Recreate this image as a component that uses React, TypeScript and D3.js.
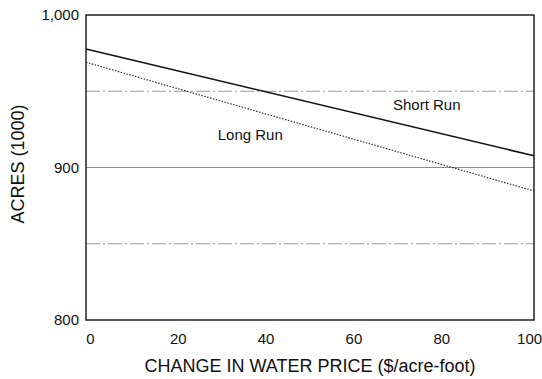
import React, { useEffect, useRef } from "react";
import * as d3 from "d3";

// price change ($/acre-foot) at the two ends of the plotted lines
const priceChange = [-1, 101];
const shortRun = [977.7, 907.7];
const longRun = [969, 884.6];

const xTicks = [0, 20, 40, 60, 80, 100];
const yTicks = [800, 900, 1000];
const gridSolid = [900];
const gridDashed = [850, 950];

const lineLabels = [
  { text: "Short Run", x: 68.9, y: 937.7 },
  { text: "Long Run", x: 29, y: 918 },
];

export default function App() {
  const ref = useRef<SVGSVGElement>(null);

  useEffect(() => {
    const svg = d3.select(ref.current);
    svg.selectAll("*").remove();

    const width = 542;
    const height = 379;
    const margin = { top: 15, right: 8, bottom: 59, left: 86 };
    const font = "'Liberation Sans', Arial, Helvetica, sans-serif";

    svg.attr("width", width).attr("height", height);

    const x = d3.scaleLinear()
      .domain([-1, 101])
      .range([margin.left, width - margin.right]);

    const y = d3.scaleLinear()
      .domain([800, 1000])
      .range([height - margin.bottom, margin.top]);

    // grid lines
    svg.append("g")
      .selectAll("line")
      .data(gridSolid)
      .enter()
      .append("line")
      .attr("x1", x(-1)).attr("x2", x(101))
      .attr("y1", d => y(d)).attr("y2", d => y(d))
      .attr("stroke", "#8a8a8a")
      .attr("stroke-width", 1.2);

    svg.append("g")
      .selectAll("line")
      .data(gridDashed)
      .enter()
      .append("line")
      .attr("x1", x(-1)).attr("x2", x(101))
      .attr("y1", d => y(d)).attr("y2", d => y(d))
      .attr("stroke", "#9a9a9a")
      .attr("stroke-width", 1.2)
      .attr("stroke-dasharray", "14 3 2 3");

    // frame
    svg.append("rect")
      .attr("x", x(-1))
      .attr("y", y(1000))
      .attr("width", x(101) - x(-1))
      .attr("height", y(800) - y(1000))
      .attr("fill", "none")
      .attr("stroke", "#222")
      .attr("stroke-width", 1.5);

    const line = d3.line<number>()
      .x((_, i) => x(priceChange[i]))
      .y(d => y(d));

    svg.append("path")
      .datum(shortRun)
      .attr("d", line)
      .attr("fill", "none")
      .attr("stroke", "#111")
      .attr("stroke-width", 1.6);

    svg.append("path")
      .datum(longRun)
      .attr("d", line)
      .attr("fill", "none")
      .attr("stroke", "#333")
      .attr("stroke-width", 1.2)
      .attr("stroke-dasharray", "1.5 1.5");

    // tick labels
    svg.append("g")
      .selectAll("text")
      .data(xTicks)
      .enter()
      .append("text")
      .attr("x", d => x(d))
      .attr("y", 344)
      .attr("text-anchor", "middle")
      .style("font-family", font)
      .style("font-size", "15px")
      .attr("fill", "#111")
      .text(d => d);

    svg.append("g")
      .selectAll("text")
      .data(yTicks)
      .enter()
      .append("text")
      .attr("x", 79)
      .attr("y", d => y(d) + 5)
      .attr("text-anchor", "end")
      .style("font-family", font)
      .style("font-size", "15px")
      .attr("fill", "#111")
      .text(d => d3.format(",")(d));

    // axis titles
    svg.append("text")
      .attr("x", 310)
      .attr("y", 372)
      .attr("text-anchor", "middle")
      .style("font-family", font)
      .style("font-size", "18px")
      .attr("fill", "#111")
      .text("CHANGE IN WATER PRICE ($/acre-foot)");

    svg.append("text")
      .attr("transform", "translate(24,164) rotate(-90)")
      .attr("text-anchor", "middle")
      .style("font-family", font)
      .style("font-size", "18px")
      .attr("fill", "#111")
      .text("ACRES (1000)");

    // line labels
    svg.append("g")
      .selectAll("text")
      .data(lineLabels)
      .enter()
      .append("text")
      .attr("x", d => x(d.x))
      .attr("y", d => y(d.y))
      .style("font-family", font)
      .style("font-size", "15px")
      .attr("fill", "#111")
      .text(d => d.text);
  }, []);

  return (
    <svg ref={ref} style={{ position: "absolute", left: 0, top: 0, background: "#fff" }}></svg>
  );
}
